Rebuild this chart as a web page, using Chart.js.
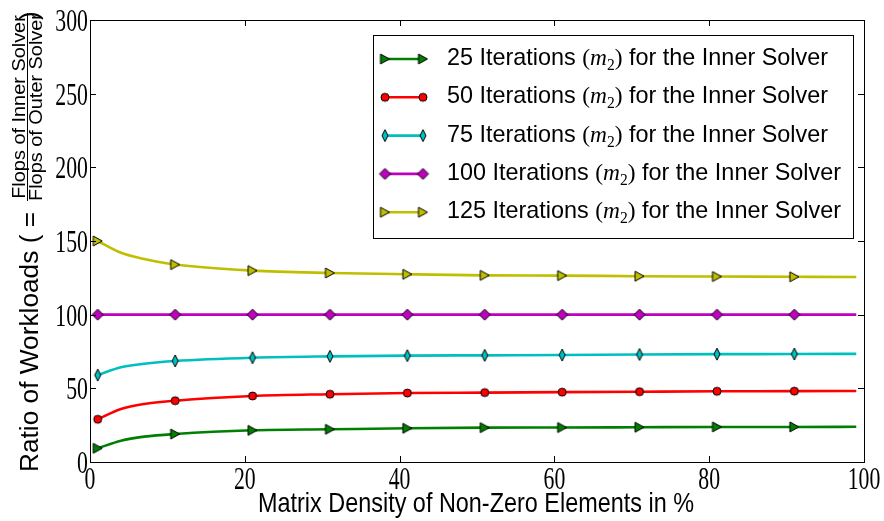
<!DOCTYPE html>
<html>
<head>
<meta charset="utf-8">
<script src="https://cdn.jsdelivr.net/npm/chart.js"></script>
<style>
  html, body { margin: 0; padding: 0; background: #fff; }
  canvas { display: block; }
</style>
</head>
<body>
<canvas id="workload-chart" width="884" height="521"></canvas>
<script>
// Matrix density (%) where each curve is sampled; markers sit only on markedDensities
const densities = [1, 4, 7, 11, 21, 31, 41, 51, 61, 71, 81, 91, 99];
const markedDensities = [1, 11, 21, 31, 41, 51, 61, 71, 81, 91];

// Ratio of workloads for each inner-solver iteration count
const iter25 = [9.3, 14.5, 17.2, 19.0, 21.5, 22.2, 22.9, 23.3, 23.4, 23.6, 23.8, 23.8, 23.9];
const iter50 = [29.0, 36.0, 39.4, 41.6, 44.8, 46.0, 46.8, 47.1, 47.4, 47.7, 48.0, 48.1, 48.2];
const iter75 = [59.0, 64.3, 66.7, 68.6, 70.8, 71.7, 72.2, 72.4, 72.6, 73.0, 73.2, 73.3, 73.4];
const iter100 = [100, 100, 100, 100, 100, 100, 100, 100, 100, 100, 100, 100, 100];
const iter125 = [150, 142, 137.8, 134.0, 129.9, 128.3, 127.4, 126.7, 126.5, 126.1, 125.9, 125.7, 125.6];

const iterationCounts = [25, 50, 75, 100, 125];
const xTickValues = [0, 20, 40, 60, 80, 100];
const yTickValues = [0, 50, 100, 150, 200, 250, 300];

const xTitle = 'Matrix Density of Non-Zero Elements in %';
const yTitleMain = 'Ratio of Workloads ( =';
const yTitleNum = 'Flops of Inner Solver';
const yTitleDen = 'Flops of Outer Solver';

const SANS = "'Liberation Sans', Arial, sans-serif";
const SERIF = "'Liberation Serif', 'Times New Roman', serif";

// small marker bitmaps used as pointStyle
function makeMarker(shape, fill, w, h) {
  const pad = 2;
  const c = document.createElement('canvas');
  c.width = w + pad * 2;
  c.height = h + pad * 2;
  const g = c.getContext('2d');
  g.translate(pad, pad);
  g.beginPath();
  if (shape === 'right') {
    g.moveTo(0, 0);
    g.lineTo(w, h / 2);
    g.lineTo(0, h);
  } else if (shape === 'diamond') {
    g.moveTo(w / 2, 0);
    g.lineTo(w, h / 2);
    g.lineTo(w / 2, h);
    g.lineTo(0, h / 2);
  } else {
    g.ellipse(w / 2, h / 2, w / 2, h / 2, 0, 0, Math.PI * 2);
  }
  g.closePath();
  g.fillStyle = fill;
  g.fill();
  g.lineWidth = 1;
  g.strokeStyle = '#000';
  g.stroke();
  return c;
}

const seriesStyle = [
  { values: iter25, color: '#008000', marker: makeMarker('right', '#008000', 9, 10) },
  { values: iter50, color: '#ff0000', marker: makeMarker('circle', '#ff0000', 8, 8) },
  { values: iter75, color: '#00bfbf', marker: makeMarker('diamond', '#00bfbf', 6, 12) },
  { values: iter100, color: '#bf00bf', marker: makeMarker('diamond', '#bf00bf', 11, 11) },
  { values: iter125, color: '#bfbf00', marker: makeMarker('right', '#bfbf00', 9, 10) }
];

const datasets = seriesStyle.map((s, i) => ({
  label: iterationCounts[i] + ' Iterations (m2) for the Inner Solver',
  data: densities.map((d, j) => ({ x: d, y: s.values[j] })),
  borderColor: s.color,
  borderWidth: 2.6,
  cubicInterpolationMode: 'monotone',
  pointStyle: s.marker,
  pointRadius: ctx => (markedDensities.includes(ctx.raw && ctx.raw.x) ? 5 : 0),
  pointHoverRadius: 0,
  fill: false
}));

// draws text squeezed horizontally by sx
function drawText(ctx, str, x, y, font, align, sx) {
  ctx.save();
  ctx.font = font;
  ctx.textAlign = align;
  ctx.textBaseline = 'alphabetic';
  ctx.translate(x, y);
  ctx.scale(sx, 1);
  ctx.fillText(str, 0, 0);
  ctx.restore();
}

function legendSegments(n) {
  return [
    { t: n + ' Iterations ', f: '24px ' + SANS, dy: 0 },
    { t: '(', f: '24px ' + SERIF, dy: 0 },
    { t: 'm', f: 'italic 24px ' + SERIF, dy: 0 },
    { t: '2', f: '16px ' + SERIF, dy: 5 },
    { t: ')', f: '24px ' + SERIF, dy: 0 },
    { t: ' for the Inner Solver', f: '24px ' + SANS, dy: 0 }
  ];
}

function segmentsWidth(ctx, segs) {
  let w = 0;
  segs.forEach(s => { ctx.font = s.f; w += ctx.measureText(s.t).width; });
  return w;
}

const legendBox = {
  id: 'legendBox',
  afterDatasetsDraw(chart) {
    const ctx = chart.ctx;
    const left = 373, top = 35, right = 853, bottom = 238;
    ctx.save();
    ctx.fillStyle = '#fff';
    ctx.fillRect(left, top, right - left, bottom - top);
    ctx.strokeStyle = '#000';
    ctx.lineWidth = 1;
    ctx.strokeRect(left + 0.5, top + 0.5, right - left, bottom - top);

    const sx = 381 / segmentsWidth(ctx, legendSegments(iterationCounts[0]));
    seriesStyle.forEach((s, i) => {
      const ly = 59 + 38.3 * i;
      ctx.strokeStyle = s.color;
      ctx.lineWidth = 2.6;
      ctx.beginPath();
      ctx.moveTo(385, ly);
      ctx.lineTo(423, ly);
      ctx.stroke();
      [385, 423].forEach(mx => {
        ctx.drawImage(s.marker, mx - s.marker.width / 2, ly - s.marker.height / 2);
      });

      ctx.save();
      ctx.fillStyle = '#000';
      ctx.textBaseline = 'alphabetic';
      ctx.translate(447, ly + 6);
      ctx.scale(sx, 1);
      let cx = 0;
      legendSegments(iterationCounts[i]).forEach(seg => {
        ctx.font = seg.f;
        ctx.fillText(seg.t, cx, seg.dy);
        cx += ctx.measureText(seg.t).width;
      });
      ctx.restore();
    });
    ctx.restore();
  }
};

const axesFrame = {
  id: 'axesFrame',
  afterDraw(chart) {
    const ctx = chart.ctx;
    const a = chart.chartArea;
    const xs = chart.scales.x, ys = chart.scales.y;
    ctx.save();
    ctx.strokeStyle = '#000';
    ctx.lineWidth = 1;
    ctx.strokeRect(Math.round(a.left) + 0.5, Math.round(a.top) + 0.5,
      Math.round(a.right - a.left), Math.round(a.bottom - a.top));

    // inward ticks on all four sides
    ctx.beginPath();
    xTickValues.forEach(v => {
      const px = Math.round(xs.getPixelForValue(v)) + 0.5;
      ctx.moveTo(px, a.bottom); ctx.lineTo(px, a.bottom - 6);
      ctx.moveTo(px, a.top); ctx.lineTo(px, a.top + 6);
    });
    yTickValues.forEach(v => {
      const py = Math.round(ys.getPixelForValue(v)) + 0.5;
      ctx.moveTo(a.left, py); ctx.lineTo(a.left + 6, py);
      ctx.moveTo(a.right, py); ctx.lineTo(a.right - 6, py);
    });
    ctx.stroke();

    // tick labels
    ctx.fillStyle = '#000';
    const tickFont = '32px ' + SERIF;
    xTickValues.forEach(v => {
      drawText(ctx, String(v), xs.getPixelForValue(v), 489, tickFont, 'center', 0.68);
    });
    yTickValues.forEach(v => {
      drawText(ctx, String(v), 88, ys.getPixelForValue(v) + 11, tickFont, 'right', 0.68);
    });

    // x title
    ctx.font = '28px ' + SANS;
    const xsx = 436 / ctx.measureText(xTitle).width;
    drawText(ctx, xTitle, 476, 512, '28px ' + SANS, 'center', xsx);

    // y title with fraction, rotated
    ctx.save();
    ctx.rotate(-Math.PI / 2);
    ctx.textBaseline = 'alphabetic';
    ctx.textAlign = 'left';
    ctx.font = '26px ' + SANS;
    const mainW = ctx.measureText(yTitleMain).width;
    ctx.save();
    ctx.translate(-472, 38);
    ctx.scale(260 / mainW, 1);
    ctx.fillText(yTitleMain, 0, 0);
    ctx.restore();

    ctx.font = '19px ' + SANS;
    ctx.textAlign = 'center';
    const fracW = Math.max(ctx.measureText(yTitleNum).width, ctx.measureText(yTitleDen).width);
    const fsx = 188 / fracW;
    ctx.save();
    ctx.translate(-107, 0);
    ctx.scale(fsx, 1);
    ctx.fillText(yTitleNum, 0, 25);
    ctx.fillText(yTitleDen, 0, 42);
    ctx.restore();
    ctx.lineWidth = 1;
    ctx.beginPath();
    ctx.moveTo(-201, 27.5);
    ctx.lineTo(-13, 27.5);
    ctx.stroke();

    ctx.font = '26px ' + SANS;
    ctx.textAlign = 'left';
    ctx.fillText(')', -20, 38);
    ctx.restore();

    ctx.restore();
  }
};

new Chart(document.getElementById('workload-chart'), {
  type: 'line',
  data: { datasets },
  options: {
    responsive: false,
    animation: false,
    layout: { padding: { top: 20, right: 20, bottom: 0, left: 0 } },
    scales: {
      x: {
        type: 'linear',
        min: 0,
        max: 100,
        ticks: { display: false, stepSize: 20 },
        grid: { display: false },
        border: { display: false },
        afterFit(scale) { scale.height = 59; }
      },
      y: {
        type: 'linear',
        min: 0,
        max: 300,
        ticks: { display: false, stepSize: 50 },
        grid: { display: false },
        border: { display: false },
        afterFit(scale) { scale.width = 90; }
      }
    },
    plugins: {
      legend: { display: false },
      tooltip: { enabled: false }
    }
  },
  plugins: [legendBox, axesFrame]
});
</script>
</body>
</html>
